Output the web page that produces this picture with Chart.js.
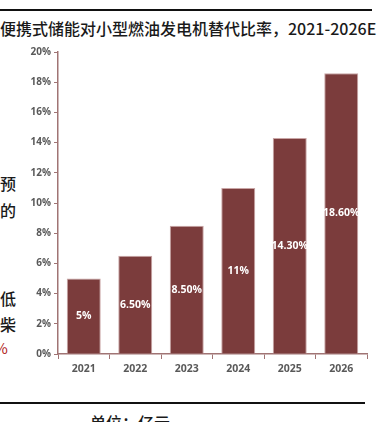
<!DOCTYPE html>
<html>
<head>
<meta charset="utf-8">
<script src="https://cdn.jsdelivr.net/npm/chart.js@4"></script>
<style>
  html, body { margin: 0; padding: 0; background: #fff; }
  body { width: 378px; height: 422px; position: relative; overflow: hidden;
         font-family: "Noto Sans CJK SC", "Noto Sans", sans-serif; color: #222; }
  .rule { position: absolute; left: 0; height: 2px; background: #111; }
  .title { position: absolute; left: 0; top: 16px; font-size: 16px; font-weight: 500; white-space: nowrap; color: #1a1a1a; }
  .side { position: absolute; font-size: 16px; font-weight: 500; color: #1a1a1a; }
  .unit { position: absolute; left: 90px; top: 410px; font-size: 16px; font-weight: 500; color: #1a1a1a; }
  #wrap { position: absolute; left: 0; top: 40px; width: 378px; height: 345px; }
</style>
</head>
<body>
<div class="rule" style="top:9px;width:372px"></div>
<div class="title">便携式储能对小型燃油发电机替代比率，2021-2026E</div>
<div class="side" style="left:0;top:171px">预</div>
<div class="side" style="left:0;top:198px">的</div>
<div class="side" style="left:0;top:286px">低</div>
<div class="side" style="left:0;top:312px">柴</div>
<div class="side" style="left:-6px;top:337px;color:#b02020;font-size:15px;font-weight:400">%</div>
<div class="rule" style="top:402px;width:365px"></div>
<div class="unit">单位：亿元</div>
<div id="wrap"><canvas id="c"></canvas></div>
<script>
const years = ["2021", "2022", "2023", "2024", "2025", "2026"];
const ratios = [5, 6.5, 8.5, 11, 14.3, 18.6];
const valueLabels = ["5%", "6.50%", "8.50%", "11%", "14.30%", "18.60%"];
const yTicks = [0, 2, 4, 6, 8, 10, 12, 14, 16, 18, 20];

const BAR = "#7b3c3c";
const AXIS = "#a07474";
const TICK_TEXT = "#595959";

const barLabels = {
  id: "barLabels",
  afterDatasetsDraw(chart) {
    const ctx = chart.ctx;
    const meta = chart.getDatasetMeta(0);
    ctx.save();
    ctx.fillStyle = "#fff";
    ctx.font = "bold 10.5px 'Open Sans', sans-serif";
    ctx.textAlign = "center";
    ctx.textBaseline = "middle";
    meta.data.forEach((bar, i) => {
      const mid = (bar.y + bar.base) / 2;
      ctx.fillText(valueLabels[i], bar.x, mid);
    });
    ctx.restore();
  }
};

new Chart(document.getElementById("c"), {
  type: "bar",
  data: {
    labels: years,
    datasets: [{
      data: ratios,
      backgroundColor: BAR,
      borderColor: "#c9a5a5",
      borderWidth: { top: 1, left: 1, right: 1, bottom: 0 },
      categoryPercentage: 1,
      barPercentage: 0.66,
    }]
  },
  options: {
    responsive: true,
    maintainAspectRatio: false,
    animation: false,
    layout: { padding: { left: 0, right: 11, top: 12, bottom: 0 } },
    plugins: { legend: { display: false }, tooltip: { enabled: false } },
    scales: {
      x: {
        offset: true,
        grid: { offset: true, drawOnChartArea: false, drawTicks: true, tickLength: 5, color: AXIS },
        border: { color: AXIS, width: 1.5 },
        ticks: { color: TICK_TEXT, font: { family: "Open Sans", size: 10.5, weight: "bold" }, padding: 4 },
        afterFit(scale) { scale.height = 31; }
      },
      y: {
        min: 0,
        max: 20,
        afterBuildTicks(scale) { scale.ticks = yTicks.map(v => ({ value: v })); },
        grid: { drawOnChartArea: false, drawTicks: true, tickLength: 4, color: AXIS },
        border: { color: AXIS, width: 1.5 },
        ticks: {
          color: TICK_TEXT,
          font: { family: "Open Sans", size: 10, weight: "bold" },
          padding: 3,
          callback: v => v + "%",
        },
        afterFit(scale) { scale.width = 58; }
      }
    }
  },
  plugins: [barLabels]
});
</script>
</body>
</html>
